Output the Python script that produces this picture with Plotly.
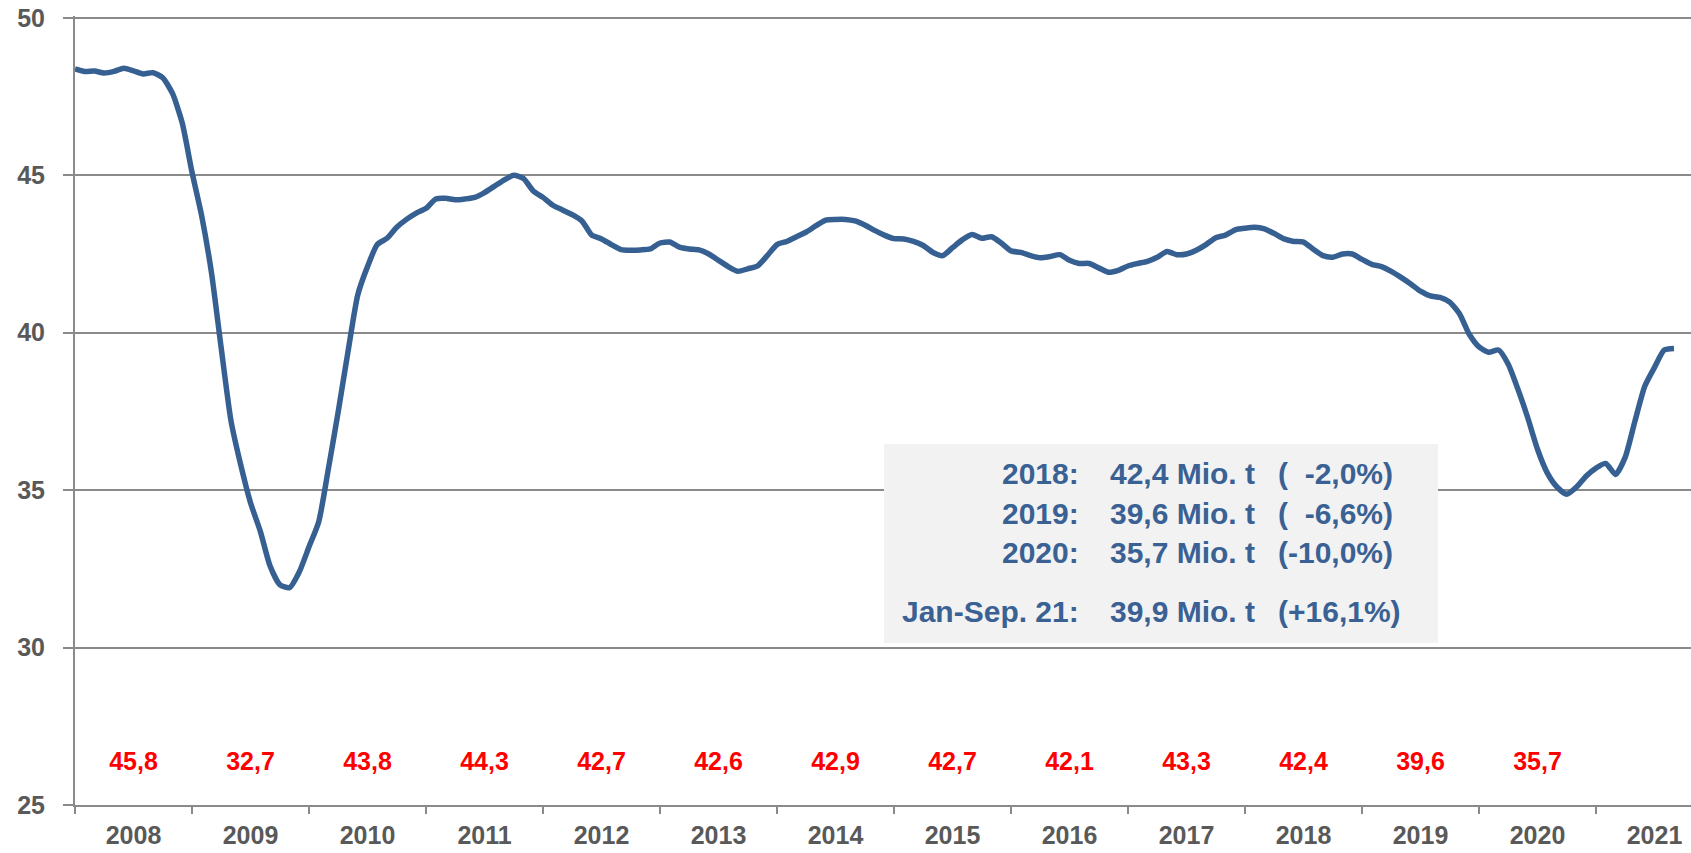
import plotly.graph_objects as go

# ---------------- data ----------------
# monthly rolling values, Jan 2008 .. Sep 2021 (Mio. t)
values = [
    48.38, 48.30, 48.31, 48.25, 48.30, 48.40, 48.32, 48.22, 48.26, 48.10, 47.60, 46.66,   # 2008
    45.10, 43.70, 41.90, 39.50, 37.20, 35.80, 34.60, 33.70, 32.60, 32.00, 31.90, 32.40,   # 2009
    33.20, 34.00, 35.70, 37.50, 39.40, 41.20, 42.10, 42.80, 43.00, 43.35, 43.60, 43.80,   # 2010
    43.95, 44.25, 44.27, 44.22, 44.25, 44.30, 44.45, 44.65, 44.85, 45.00, 44.90, 44.50,   # 2011
    44.30, 44.05, 43.90, 43.75, 43.55, 43.10, 42.98, 42.80, 42.64, 42.62, 42.63, 42.66,   # 2012
    42.85, 42.88, 42.72, 42.66, 42.63, 42.50, 42.30, 42.10, 41.95, 42.03, 42.12, 42.45,   # 2013
    42.80, 42.90, 43.05, 43.20, 43.40, 43.58, 43.60, 43.60, 43.55, 43.42, 43.25, 43.10,   # 2014
    42.99, 42.98, 42.90, 42.77, 42.55, 42.45, 42.70, 42.95, 43.12, 43.00, 43.05, 42.85,   # 2015
    42.60, 42.55, 42.45, 42.38, 42.42, 42.48, 42.30, 42.20, 42.20, 42.06, 41.92, 41.98,   # 2016
    42.12, 42.20, 42.27, 42.40, 42.58, 42.48, 42.50, 42.62, 42.80, 43.02, 43.10, 43.27,   # 2017
    43.32, 43.35, 43.30, 43.15, 42.98, 42.90, 42.88, 42.65, 42.45, 42.40, 42.50, 42.50,   # 2018
    42.33, 42.17, 42.10, 41.95, 41.76, 41.55, 41.32, 41.17, 41.12, 40.97, 40.60, 39.95,   # 2019
    39.55, 39.38, 39.45, 39.00, 38.20, 37.30, 36.30, 35.55, 35.10, 34.87, 35.10, 35.45,   # 2020
    35.70, 35.85, 35.50, 36.05, 37.20, 38.30, 38.90, 39.45, 39.50,                        # 2021 (Jan-Sep)
]
months = list(range(len(values)))

years = ["2008", "2009", "2010", "2011", "2012", "2013", "2014",
         "2015", "2016", "2017", "2018", "2019", "2020", "2021"]
annual_totals = ["45,8", "32,7", "43,8", "44,3", "42,7", "42,6", "42,9",
                 "42,7", "42,1", "43,3", "42,4", "39,6", "35,7"]

box_labels = ["2018:", "2019:", "2020:", "Jan-Sep. 21:"]
box_values = ["42,4 Mio. t", "39,6 Mio. t", "35,7 Mio. t", "39,9 Mio. t"]
box_changes = ["(\u00a0\u00a0-2,0%)", "(\u00a0\u00a0-6,6%)", "(-10,0%)", "(+16,1%)"]

y_ticks = [25, 30, 35, 40, 45, 50]

# ---------------- styling ----------------
W, H = 1691, 853
PLOT_L, PLOT_T, PLOT_B = 75, 16, 805   # screen pixels
ML, MR, MT = PLOT_L, 0, PLOT_T
MB = H - PLOT_B
PW, PH = W - ML - MR, H - MT - MB
MONTH_PX = 9.75
XMAX = PW / MONTH_PX
Y_TOP = 50.06                # a hair above 50 so the top grid line is drawn

FONT = "'Liberation Sans', Arial, sans-serif"
LINE_C = "#376092"
GRID_C = "#8a8a8a"
TXT_C = "#595959"
BOX_TXT = "#3a6194"


def px_x(px):
    return (px - PLOT_L) / PW


def px_y(py):
    return (PLOT_B - py) / PH


fig = go.Figure()

fig.add_trace(go.Scatter(
    x=months, y=values, mode="lines",
    line=dict(color=LINE_C, width=5.5, shape="spline", smoothing=0.6),
    hoverinfo="skip", showlegend=False,
))

# annual totals in red
label_x = [12 * k + 6 for k in range(len(annual_totals))]
fig.add_trace(go.Scatter(
    x=label_x, y=[26.3] * len(annual_totals), mode="text",
    text=annual_totals, textposition="middle center",
    textfont=dict(family=FONT, size=25, color="#ff0000", weight="bold"),
    hoverinfo="skip", showlegend=False, cliponaxis=False,
))

# info box
fig.add_shape(type="rect", xref="paper", yref="paper",
              x0=px_x(884), x1=px_x(1438), y0=px_y(643), y1=px_y(444),
              fillcolor="#f2f2f2", line=dict(width=0), layer="above")

row_y = [473, 513, 552, 611]
for lab, val, chg, py in zip(box_labels, box_values, box_changes, row_y):
    common = dict(xref="paper", yref="paper", y=px_y(py), yanchor="middle",
                  showarrow=False,
                  font=dict(family=FONT, size=30, color=BOX_TXT, weight="bold"))
    fig.add_annotation(text=lab, x=px_x(1081), xanchor="right", **common)
    fig.add_annotation(text=val, x=px_x(1108), xanchor="left", **common)
    fig.add_annotation(text=chg, x=px_x(1276), xanchor="left", **common)

fig.update_layout(
    width=W, height=H,
    margin=dict(l=ML, r=MR, t=MT, b=MB, pad=0),
    paper_bgcolor="white", plot_bgcolor="white",
    showlegend=False,
    hovermode=False,
    xaxis=dict(
        automargin=False,
        range=[0, XMAX],
        tickmode="array",
        tickvals=[12 * k + 6 for k in range(len(years))],
        ticktext=years,
        ticks="",
        ticklabelstandoff=7,
        ticklabeloverflow="allow",
        tickfont=dict(family=FONT, size=25, color=TXT_C, weight="bold"),
        showgrid=False, zeroline=False,
        showline=True, linecolor=GRID_C, linewidth=2,
        minor=dict(tickvals=[12 * k for k in range(len(years) + 1)],
                   ticks="outside", ticklen=7, tickwidth=2, tickcolor=GRID_C,
                   showgrid=False),
    ),
    yaxis=dict(
        automargin=False,
        range=[25, Y_TOP],
        tickmode="array", tickvals=y_ticks,
        ticks="outside", ticklen=10, tickwidth=2, tickcolor=GRID_C,
        ticklabelstandoff=13,
        ticklabeloverflow="allow",
        tickfont=dict(family=FONT, size=25, color=TXT_C, weight="bold"),
        showgrid=True, gridcolor=GRID_C, gridwidth=2,
        zeroline=False,
        showline=True, linecolor=GRID_C, linewidth=2,
    ),
)

fig.write_html("out.html",
               config={"displayModeBar": False, "staticPlot": True},
               post_script="document.body.style.margin='0px';"
                           "document.body.style.overflow='hidden';")
